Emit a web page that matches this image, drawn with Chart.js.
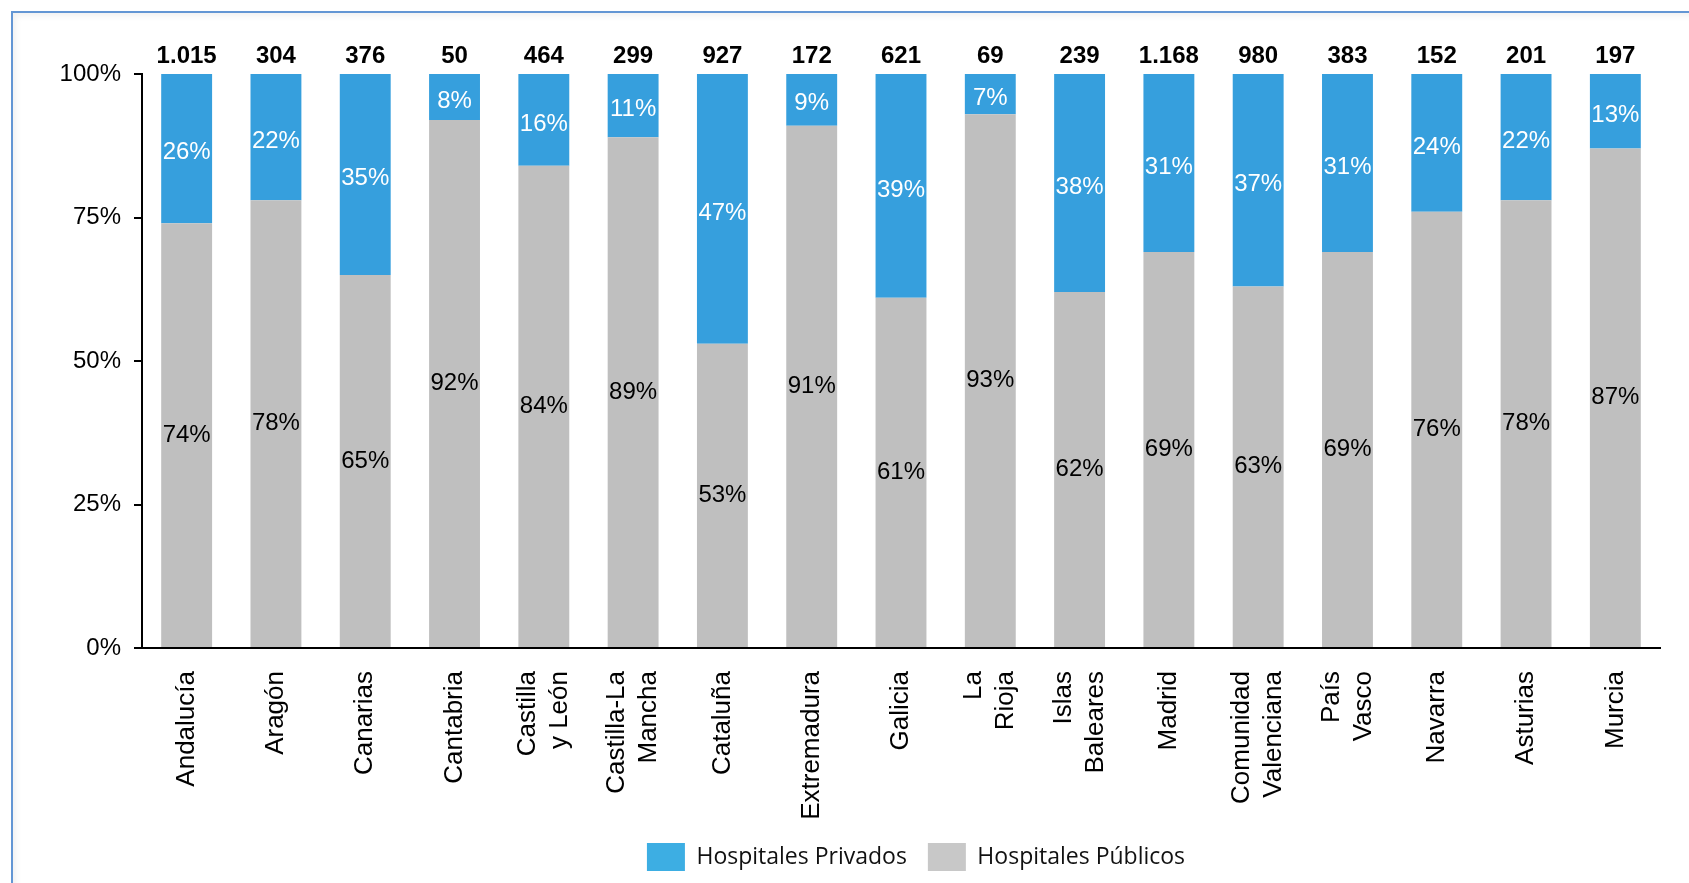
<!DOCTYPE html>
<html>
<head>
<meta charset="utf-8">
<script src="https://cdn.jsdelivr.net/npm/chart.js@4"></script>
<style>
  html, body { margin: 0; padding: 0; background: #fff; overflow: hidden; }
  #wrap { position: relative; width: 1689px; height: 883px; }
  #frame {
    position: absolute; left: 11px; top: 11px; right: -4px; bottom: -4px;
    border-left: 2px solid #6396d4; border-top: 2px solid #6396d4;
    box-shadow: inset 3px 3px 6px rgba(0,0,0,0.06);
  }
  canvas { position: absolute; left: 0; top: 0; }
</style>
</head>
<body>
<div id="wrap">
  <div id="frame"></div>
  <canvas id="myChart" width="1689" height="883"></canvas>
</div>
<script>
const regiones = ['Andalucía', 'Aragón', 'Canarias', 'Cantabria', ['Castilla', 'y León'], ['Castilla-La', 'Mancha'],
    'Cataluña', 'Extremadura', 'Galicia', ['La', 'Rioja'], ['Islas', 'Baleares'], 'Madrid',
    ['Comunidad', 'Valenciana'], ['País', 'Vasco'], 'Navarra', 'Asturias', 'Murcia'];
const privados = [26, 22, 35, 8, 16, 11, 47, 9, 39, 7, 38, 31, 37, 31, 24, 22, 13];
const publicos = [74, 78, 65, 92, 84, 89, 53, 91, 61, 93, 62, 69, 63, 69, 76, 78, 87];
const totales = [1015, 304, 376, 50, 464, 299, 927, 172, 621, 69, 239, 1168, 980, 383, 152, 201, 197];
const yTicks = [0, 25, 50, 75, 100];

const fontArial = "'Liberation Sans', Arial, sans-serif";
Chart.defaults.font.family = fontArial;
Chart.defaults.color = '#000';

function miles(n) {
    return n.toString().replace(/\B(?=(\d{3})+(?!\d))/g, '.');
}

// percentages inside each segment + totals on top
const etiquetas = {
    id: 'etiquetas',
    afterDatasetsDraw(chart) {
        const ctx = chart.ctx;
        ctx.save();
        ctx.textAlign = 'center';
        ctx.textBaseline = 'middle';
        ctx.font = '24px ' + fontArial;
        chart.data.datasets.forEach((ds, di) => {
            const meta = chart.getDatasetMeta(di);
            ctx.fillStyle = ds.labelColor;
            meta.data.forEach((bar, i) => {
                ctx.fillText(ds.data[i] + '%', bar.x, (bar.y + bar.base) / 2 + ds.labelShift);
            });
        });
        const y = chart.scales.y.getPixelForValue(100) - 11;
        ctx.font = 'bold 24px ' + fontArial;
        ctx.fillStyle = '#000';
        ctx.textBaseline = 'alphabetic';
        totales.forEach((t, i) => {
            ctx.fillText(miles(t), chart.scales.x.getPixelForValue(i), y);
        });
        ctx.restore();
    }
};

// centre two-line rotated labels on their bar, nudge legend
const ajustes = {
    id: 'ajustes',
    afterLayout(chart) {
        chart.legend.left += 15;
        chart.legend.right += 15;
    },
    beforeDraw(chart) {
        const sx = chart.scales.x;
        const lh = 32;
        sx.getLabelItems(chart.chartArea).forEach(it => {
            if (Array.isArray(it.label) && !it._centrado) {
                it.options.translation[0] -= lh * (it.label.length - 1) / 2;
                it._centrado = true;
            }
        });
    }
};

const legendColors = ['#c8c8c8', '#3daee3'];

const ctx = document.getElementById('myChart').getContext('2d');
const myChart = new Chart(ctx, {
    type: 'bar',
    data: {
        labels: regiones,
        datasets: [{
            label: 'Hospitales Públicos',
            data: publicos,
            backgroundColor: '#bfbfbf',
            labelColor: '#000',
            labelShift: 0
        }, {
            label: 'Hospitales Privados',
            data: privados,
            backgroundColor: '#369fdd',
            labelColor: '#fff',
            labelShift: 4
        }]
    },
    options: {
        responsive: false,
        animation: false,
        layout: { padding: { left: 12, right: 29, top: 74, bottom: 2 } },
        datasets: { bar: { barPercentage: 0.57, categoryPercentage: 1 } },
        scales: {
            x: {
                stacked: true,
                grid: { display: true, drawOnChartArea: false, drawTicks: false },
                border: { display: true, color: '#000', width: 2 },
                ticks: {
                    autoSkip: false,
                    maxRotation: 90,
                    minRotation: 90,
                    padding: 23,
                    color: '#000',
                    font: { size: 26, lineHeight: 32 / 26 }
                },
                afterFit(scale) { scale.height = 174; }
            },
            y: {
                stacked: true,
                min: 0,
                max: 100,
                afterBuildTicks(scale) { scale.ticks = yTicks.map(v => ({ value: v })); },
                grid: { drawOnChartArea: false, drawTicks: true, tickLength: 8, color: '#000', lineWidth: 2 },
                border: { display: true, color: '#000', width: 2 },
                ticks: {
                    padding: 13,
                    color: '#000',
                    font: { size: 24 },
                    callback: v => v + '%'
                },
                afterFit(scale) { scale.width = 130; }
            }
        },
        plugins: {
            tooltip: { enabled: false },
            legend: {
                position: 'bottom',
                fullSize: false,
                reverse: true,
                labels: {
                    boxWidth: 38,
                    boxHeight: 28,
                    padding: 21,
                    color: '#111',
                    font: { family: "'Open Sans', 'Noto Sans', sans-serif", size: 23 },
                    generateLabels(chart) {
                        const items = Chart.defaults.plugins.legend.labels.generateLabels(chart);
                        items.forEach(it => {
                            it.fillStyle = legendColors[it.datasetIndex];
                            it.strokeStyle = legendColors[it.datasetIndex];
                            it.lineWidth = 0;
                        });
                        return items;
                    }
                }
            }
        }
    },
    plugins: [etiquetas, ajustes]
});
</script>
</body>
</html>
